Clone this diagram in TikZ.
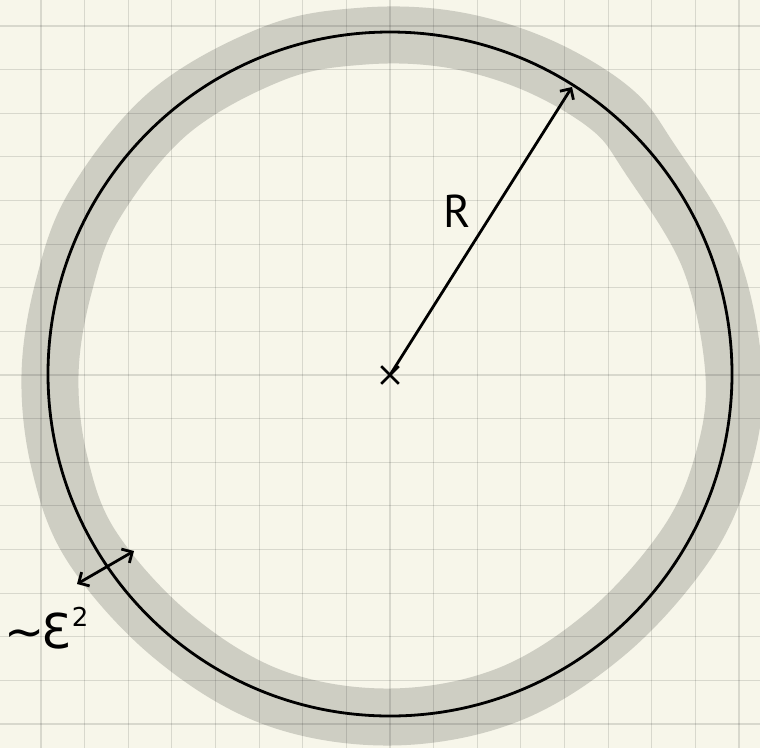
\documentclass[tikz,border=0pt]{standalone}
\usepackage{fontspec}
\newfontfamily\dejavu{DejaVu Sans}
\newfontfamily\ptsans{PT Sans}
\usetikzlibrary{arrows.meta,shapes.misc}
\definecolor{paper}{RGB}{247,246,234}
\definecolor{bandgray}{RGB}{206,206,195}
\begin{document}
\begin{tikzpicture}[x=1pt,y=-1pt,
  gridline/.style={black,opacity=0.12,line width=1.2pt},
  ink/.style={black,line width=2.8pt},
  >={Straight Barb[length=8pt,width=16pt,line width=2.8pt]}]
\useasboundingbox (0,0) rectangle (760,748);
\fill[paper] (0,0) rectangle (760,748);
% shaded band
\draw[bandgray,line width=57pt] plot[smooth cycle,tension=0.6] coordinates {
 (734,375) (709.5,258.7) (649.0,157.5) (610.0,108.0) (535.0,64.1) (449.2,39.2)
 (360.4,36.3) (273.0,53.6) (169.5,112.3) (94.7,204.5) (63.5,287.5) (50,375)
 (59.7,463.5) (92.1,547) (171.4,635.4) (272.7,697.3) (390,717) (506.6,695.4)
 (606.6,633.1) (685.3,545.5) (722.3,464.0)};
% grid
\foreach \i in {-1,...,17}{
  \draw[gridline] ({41+43.625*\i},0) -- ({41+43.625*\i},748);
  \draw[gridline] (0,{26+43.625*\i}) -- (760,{26+43.625*\i});
}
% circle
\coordinate (c) at (390,374);
\draw[ink] (c) circle[radius=342];
% centre cross and radius
\node[draw,cross out,minimum size=15pt,inner sep=0pt,line width=2.6pt] (cross) at (390,375) {};
\coordinate (tip) at (572,87);
\draw[ink,->] (cross.center) -- (tip);
\node (R) at (457,211) {\ptsans\fontsize{46}{46}\selectfont R};
% thickness arrow
\coordinate (da) at (77,584);
\coordinate (db) at (134,551);
\draw[ink,<->] (da) -- (db);
\node[anchor=base west,inner sep=0pt] (eps) at (4,648) {\dejavu\fontsize{48}{48}\selectfont \textasciitilde\kern-3ptƐ\kern1pt\raisebox{22pt}{\fontsize{26}{26}\selectfont 2}};
\end{tikzpicture}
\end{document}
